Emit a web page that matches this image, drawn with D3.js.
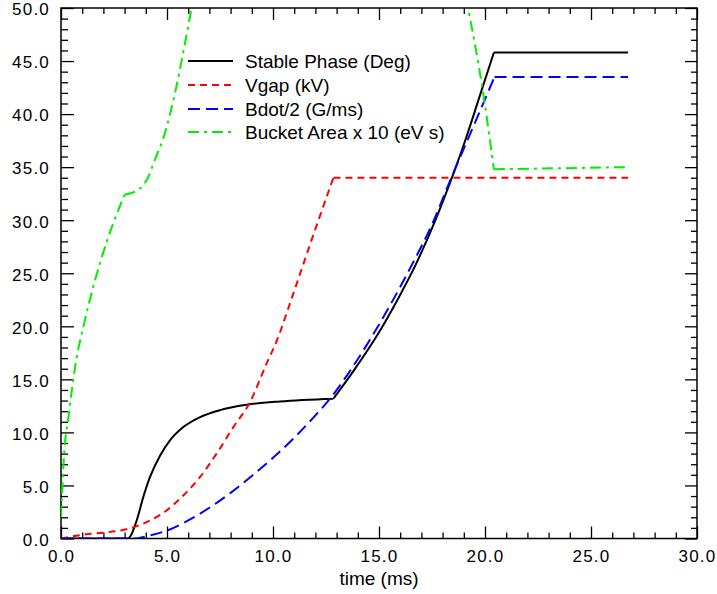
<!DOCTYPE html>
<html><head><meta charset="utf-8">
<script src="https://cdn.jsdelivr.net/npm/d3@7"></script>
<style>
body{margin:0;background:#fff;}
text{font-family:"Liberation Sans",Arial,Helvetica,sans-serif;}
</style></head>
<body><svg id="c" width="717" height="594"></svg>
<script>
// ---- data ----
const xMajorTicks = [0, 5, 10, 15, 20, 25, 30];
const yMajorTicks = [0, 5, 10, 15, 20, 25, 30, 35, 40, 45, 50];
const xLabel = "time (ms)";
const seriesNames = ["Stable Phase (Deg)", "Vgap (kV)", "Bdot/2 (G/ms)", "Bucket Area x 10 (eV s)"];

// Stable phase, in pieces (kinks between)
const stableA = [[0,0],[3.15,0],[3.57,1.7],[3.88,3.9],[4.2,5.8],[4.67,7.8],[5.14,9.25],[5.77,10.5],[6.56,11.44],[7.5,12.1],[8.76,12.6],[10.33,12.92],[12.85,13.18]];
const stableB = [[12.85,13.18],[13.8,15.8],[14.9,19.1],[15.9,22.6],[16.8,26.1],[17.7,30.2],[18.4,33.8],[19.1,37.7],[19.8,42.0],[20.42,45.8]];
const stableC = [[20.42,45.8],[26.75,45.8]];

const vgapA = [[0,0],[1,0.35],[2,0.55],[2.8,0.75],[3.4,1.05],[4.2,1.7],[4.98,2.64],[5.77,4.06],[6.56,5.8],[7.34,8.0],[8.13,10.5],[8.9,12.8],[9.7,16.5],[10.17,18.6],[10.96,23.1],[11.9,28.6],[12.85,34.0]];
const vgapB = [[12.85,34.0],[26.75,34.0]];

const bdotA = [[0,0],[3.4,0],[4.2,0.3],[5,0.75],[6,1.7],[7,2.9],[8,4.3],[9,5.9],[10,7.6],[11,9.5],[12,11.6],[12.7,13.2],[13.5,15.4],[14.5,18.5],[15.5,21.9],[16.5,25.6],[17.5,29.6],[18.35,33.7],[19.4,38.6],[20.45,43.5]];
const bdotB = [[20.45,43.5],[26.75,43.5]];

const bucketA = [[0,2.0],[0.16,8.3],[0.35,11.4],[0.66,16.1],[1.13,20.6],[1.6,24.3],[2.23,28.4],[3.0,32.4]];
const bucketB = [[3.0,32.4],[3.73,33.0],[4.12,34.1],[4.43,35.7],[4.9,38.2],[5.38,42.0],[5.85,46.7],[6.25,51.0]];
const bucketC = [[19.1,51.0],[19.92,41.9],[20.42,34.8]];
const bucketD = [[20.42,34.8],[26.75,35.0]];

// ---- layout ----
const svg = d3.select("#c");
const L = 61, R = 697, T = 8, B = 538.5;
const x = d3.scaleLinear().domain([0,30]).range([L,R]);
const y = d3.scaleLinear().domain([0,50]).range([B,T]);

const fmt = d3.format(".1f");
const xMinor = d3.range(0,31,1).filter(v=>v%5!==0);
const yMinor = d3.range(0,51,1).filter(v=>v%5!==0);
const FS = 19, TFS = 17;

function styleAxis(g){
  g.select(".domain").remove();
  g.selectAll("line").attr("stroke","#000").attr("stroke-width",1.3);
  g.selectAll("text").attr("font-size",TFS).attr("fill","#000")
    .attr("letter-spacing","1.2px")
    .attr("font-family",'"Liberation Sans",Arial,sans-serif');
}
// bottom
svg.append("g").attr("transform",`translate(0,${B})`)
  .call(d3.axisBottom(x).tickValues(xMajorTicks).tickFormat(fmt).tickSizeInner(-12).tickSizeOuter(0).tickPadding(11))
  .call(styleAxis);
svg.append("g").attr("transform",`translate(0,${B})`)
  .call(d3.axisBottom(x).tickValues(xMinor).tickFormat("").tickSizeInner(-6).tickSizeOuter(0))
  .call(styleAxis);
// top
svg.append("g").attr("transform",`translate(0,${T})`)
  .call(d3.axisTop(x).tickValues(xMajorTicks).tickFormat("").tickSizeInner(-12).tickSizeOuter(0))
  .call(styleAxis);
svg.append("g").attr("transform",`translate(0,${T})`)
  .call(d3.axisTop(x).tickValues(xMinor).tickFormat("").tickSizeInner(-6).tickSizeOuter(0))
  .call(styleAxis);
// left
const gl = svg.append("g").attr("transform",`translate(${L},0)`)
  .call(d3.axisLeft(y).tickValues(yMajorTicks).tickFormat(fmt).tickSizeInner(-13).tickSizeOuter(0).tickPadding(11))
  .call(styleAxis);
gl.selectAll("text").attr("dy","0.4em");
svg.append("g").attr("transform",`translate(${L},0)`)
  .call(d3.axisLeft(y).tickValues(yMinor).tickFormat("").tickSizeInner(-7).tickSizeOuter(0))
  .call(styleAxis);
// right
svg.append("g").attr("transform",`translate(${R},0)`)
  .call(d3.axisRight(y).tickValues(yMajorTicks).tickFormat("").tickSizeInner(-12).tickSizeOuter(0))
  .call(styleAxis);
svg.append("g").attr("transform",`translate(${R},0)`)
  .call(d3.axisRight(y).tickValues(yMinor).tickFormat("").tickSizeInner(-6).tickSizeOuter(0))
  .call(styleAxis);

// frame
svg.append("rect").attr("x",L).attr("y",T).attr("width",R-L).attr("height",B-T)
  .attr("fill","none").attr("stroke","#000").attr("stroke-width",1.5);

svg.append("text").attr("x",(L+R)/2).attr("y",585).attr("text-anchor","middle")
  .attr("font-size",FS).text(xLabel);

// clip
svg.append("clipPath").attr("id","clip").append("rect")
  .attr("x",L).attr("y",T).attr("width",R-L).attr("height",B-T);

const line = d3.line().x(d=>x(d[0])).y(d=>y(d[1])).curve(d3.curveMonotoneX);
const styles = [
  {color:"#000000", dash:null, pieces:[stableA,stableB,stableC]},
  {color:"#ff0000", dash:"7,5", pieces:[vgapA,vgapB]},
  {color:"#0000ff", dash:"12,6", pieces:[bdotA,bdotB]},
  {color:"#00ee00", dash:"11,5,3,5", pieces:[bucketA,bucketB,bucketC,bucketD]}
];
const plot = svg.append("g").attr("clip-path","url(#clip)");
styles.forEach(s=>{
  plot.append("path")
    .attr("d", s.pieces.map(p=>line(p)).join(""))
    .attr("fill","none").attr("stroke",s.color).attr("stroke-width",2)
    .attr("stroke-dasharray",s.dash).attr("stroke-linejoin","miter");
});

// legend
const lg = svg.append("g");
const rowY = [61, 85, 109, 132];
styles.forEach((s,i)=>{
  lg.append("line").attr("x1",188).attr("x2",233).attr("y1",rowY[i]).attr("y2",rowY[i])
    .attr("stroke",s.color).attr("stroke-width",2).attr("stroke-dasharray",s.dash);
  lg.append("text").attr("x",245).attr("y",rowY[i]+6.5).attr("font-size",FS).text(seriesNames[i]);
});
</script></body></html>
